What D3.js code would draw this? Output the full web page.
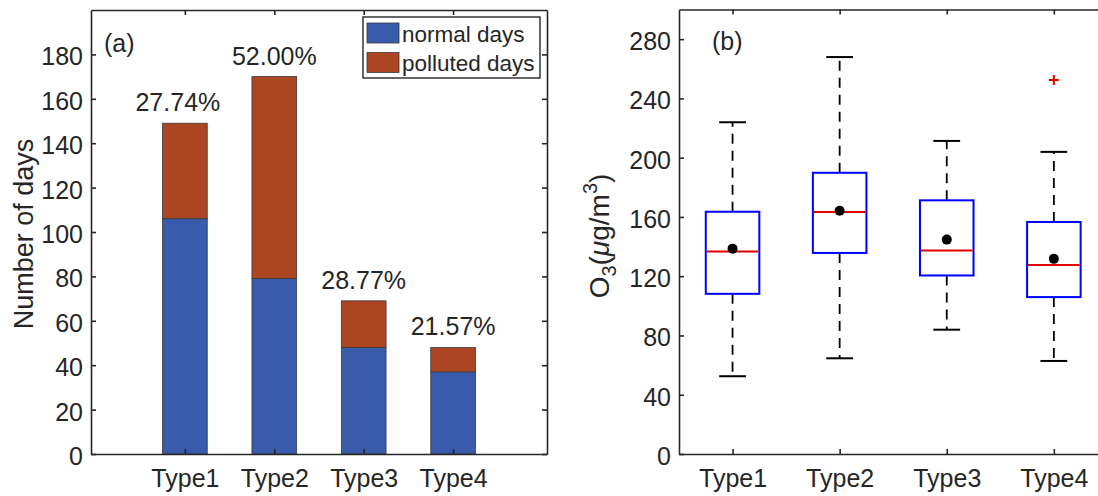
<!DOCTYPE html>
<html>
<head>
<meta charset="utf-8">
<script src="https://cdn.jsdelivr.net/npm/d3@7"></script>
<style>
  html, body { margin: 0; padding: 0; background: #fff; }
  svg { display: block; }
  text { font-family: "Liberation Sans", Arial, Helvetica, sans-serif; fill: #262626; }
</style>
</head>
<body>
<svg id="chart" width="1098" height="496"></svg>
<script>
// ---------- data ----------
const categories = ["Type1", "Type2", "Type3", "Type4"];
const normalDays = [106, 79, 48, 37];
const pollutedDays = [43, 91, 21, 11];
const pollutedPct = ["27.74%", "52.00%", "28.77%", "21.57%"];
const seriesNames = ["normal days", "polluted days"];
const yTicksA = [0, 20, 40, 60, 80, 100, 120, 140, 160, 180];

const whiskerLow = [52.5, 64.6, 83.9, 62.8];
const q1 = [108.1, 135.7, 120.5, 105.9];
const medians = [136.6, 163.3, 137.3, 127.6];
const q3 = [163.5, 189.8, 171.2, 156.6];
const whiskerHigh = [223.9, 267.9, 211.3, 203.9];
const means = [138.6, 164.2, 144.7, 131.7];
const outliers = [[], [], [], [252.4]];
const yTicksB = [0, 40, 80, 120, 160, 200, 240, 280];

// ---------- setup ----------
const svg = d3.select("#chart");
const axisColor = "#262626";
const tickFont = 25;
const blue = "#3A5BAB", brown = "#AB4522";

function styleAxis(g, showLabels) {
  g.select(".domain").attr("stroke", axisColor).attr("stroke-width", 1.6);
  g.selectAll(".tick line").attr("stroke", axisColor).attr("stroke-width", 1.6);
  g.selectAll(".tick text").attr("fill", axisColor).attr("font-size", tickFont)
    .attr("font-family", '"Liberation Sans", Arial, Helvetica, sans-serif');
  if (!showLabels) g.selectAll(".tick text").remove();
}

function frame(x, y, xTicks, xTickFmt, yTicks) {
  const [x0, x1] = x.range(), [y0, y1] = y.range();
  const gB = svg.append("g").attr("transform", `translate(0,${y0})`)
    .call(d3.axisBottom(x).tickValues(xTicks).tickFormat(xTickFmt).tickSizeInner(-5).tickSizeOuter(0).tickPadding(15));
  styleAxis(gB, true);
  const gT = svg.append("g").attr("transform", `translate(0,${y1})`)
    .call(d3.axisTop(x).tickValues(xTicks).tickSizeInner(-5).tickSizeOuter(0));
  styleAxis(gT, false);
  const gL = svg.append("g").attr("transform", `translate(${x0},0)`)
    .call(d3.axisLeft(y).tickValues(yTicks).tickFormat(d3.format("d")).tickSizeInner(-5).tickSizeOuter(0).tickPadding(8));
  styleAxis(gL, true);
  gL.selectAll(".tick text").attr("dy", "0.42em");
  const gR = svg.append("g").attr("transform", `translate(${x1},0)`)
    .call(d3.axisRight(y).tickValues(yTicks).tickSizeInner(-5).tickSizeOuter(0));
  styleAxis(gR, false);
}

// ---------- panel (a): stacked bars ----------
const pos = categories.map((d, i) => i + 1);
const xA = d3.scaleLinear().domain([-0.05, 5.05]).range([91, 547]);
const yA = d3.scaleLinear().domain([0, 200]).range([454, 10]);
const barW = xA(0.5) - xA(0);

const stackData = categories.map((c, i) => ({ key: c, normal: normalDays[i], polluted: pollutedDays[i] }));
const stacked = d3.stack().keys(["normal", "polluted"])(stackData);
const colors = [blue, brown];

const gBars = svg.append("g");
stacked.forEach((layer, li) => {
  gBars.selectAll(null).data(layer).enter().append("rect")
    .attr("x", (d, i) => xA(pos[i]) - barW / 2)
    .attr("width", barW)
    .attr("y", d => yA(d[1]))
    .attr("height", d => yA(d[0]) - yA(d[1]))
    .attr("fill", colors[li])
    .attr("stroke", "#3a3a3a")
    .attr("stroke-width", 0.8);
});

frame(xA, yA, pos, (d) => categories[d - 1], yTicksA);

// percentage labels
svg.append("g").selectAll("text").data(categories).enter().append("text")
  .attr("x", (d, i) => xA(pos[i]) + (i === 0 ? -7 : 0))
  .attr("y", (d, i) => yA(normalDays[i] + pollutedDays[i]) - 12)
  .attr("text-anchor", "middle")
  .attr("font-size", 25)
  .attr("fill", "#111")
  .text((d, i) => pollutedPct[i]);

svg.append("text").attr("x", 104).attr("y", 52).attr("font-size", 25).text("(a)");

// legend
const lg = svg.append("g");
lg.append("rect").attr("x", 363).attr("y", 17).attr("width", 177).attr("height", 61)
  .attr("fill", "#fff").attr("stroke", axisColor).attr("stroke-width", 1.4);
seriesNames.forEach((name, i) => {
  lg.append("rect").attr("x", 367).attr("y", 23 + i * 29.5).attr("width", 32).attr("height", 20)
    .attr("fill", colors[i]).attr("stroke", "#3a3a3a").attr("stroke-width", 0.8);
  lg.append("text").attr("x", 402).attr("y", 41.5 + i * 29.5).attr("font-size", 22.5)
    .attr("fill", "#111").text(name);
});

// y label (a)
svg.append("text")
  .attr("transform", "translate(33,234) rotate(-90)")
  .attr("text-anchor", "middle")
  .attr("font-size", 27)
  .text("Number of days");

// ---------- panel (b): box plots ----------
const xB = d3.scaleLinear().domain([0.5, 4.5]).range([679, 679 + 428.4]);
const yB = d3.scaleLinear().domain([0, 300]).range([454, 9.5]);
const boxW = xB(0.5) - xB(0);
const capW = xB(0.25) - xB(0);

const gBox = svg.append("g");
categories.forEach((c, i) => {
  const cx = xB(pos[i]);
  gBox.append("line").attr("x1", cx).attr("x2", cx).attr("y1", yB(q3[i])).attr("y2", yB(whiskerHigh[i]))
    .attr("stroke", "#000").attr("stroke-width", 1.8).attr("stroke-dasharray", "10,7");
  gBox.append("line").attr("x1", cx).attr("x2", cx).attr("y1", yB(q1[i])).attr("y2", yB(whiskerLow[i]))
    .attr("stroke", "#000").attr("stroke-width", 1.8).attr("stroke-dasharray", "10,7");
  [whiskerHigh[i], whiskerLow[i]].forEach(v => {
    gBox.append("line").attr("x1", cx - capW / 2).attr("x2", cx + capW / 2)
      .attr("y1", yB(v)).attr("y2", yB(v)).attr("stroke", "#000").attr("stroke-width", 2);
  });
  gBox.append("rect").attr("x", cx - boxW / 2).attr("width", boxW)
    .attr("y", yB(q3[i])).attr("height", yB(q1[i]) - yB(q3[i]))
    .attr("fill", "none").attr("stroke", "#0000FF").attr("stroke-width", 2);
  gBox.append("line").attr("x1", cx - boxW / 2 + 1).attr("x2", cx + boxW / 2 - 1)
    .attr("y1", yB(medians[i])).attr("y2", yB(medians[i]))
    .attr("stroke", "#E00000").attr("stroke-width", 2);
  gBox.append("circle").attr("cx", cx).attr("cy", yB(means[i])).attr("r", 5).attr("fill", "#000");
  outliers[i].forEach(v => {
    const oy = yB(v);
    gBox.append("path").attr("d", `M${cx - 5},${oy}H${cx + 5}M${cx},${oy - 5}V${oy + 5}`)
      .attr("stroke", "#E00000").attr("stroke-width", 2).attr("fill", "none");
  });
});

frame(xB, yB, pos, (d) => categories[d - 1], yTicksB);

svg.append("text").attr("x", 712).attr("y", 50).attr("font-size", 25).text("(b)");

// y label (b)
const yl = svg.append("text")
  .attr("transform", "translate(609,236) rotate(-90)")
  .attr("text-anchor", "middle")
  .attr("font-size", 28);
yl.append("tspan").text("O");
yl.append("tspan").attr("font-size", 20).attr("dy", 7).text("3");
yl.append("tspan").attr("dy", -7).text("(");
yl.append("tspan").attr("font-style", "italic").text("\u03BC");
yl.append("tspan").text("g/m");
yl.append("tspan").attr("font-size", 20).attr("dy", -12).text("3");
yl.append("tspan").attr("dy", 12).text(")");
</script>
</body>
</html>
